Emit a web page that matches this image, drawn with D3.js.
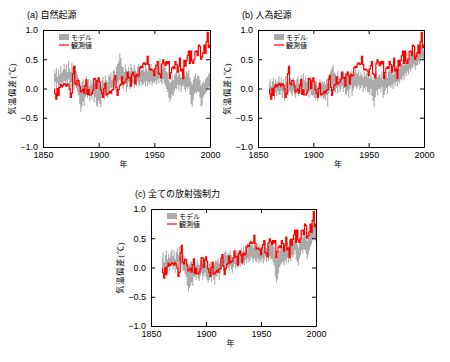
<!DOCTYPE html>
<html>
<head>
<meta charset="utf-8">
<script src="https://cdn.jsdelivr.net/npm/d3@7"></script>
<style>
  body { margin: 0; background: #fff; }
  text { font-family: "Liberation Sans", Arial, "Noto Sans CJK JP", sans-serif; }
</style>
</head>
<body>
<div id="visualization"></div>
<script>
let w = 450;
let h = 362;

// years 1860..2000
let years = d3.range(1860, 2001);

// observed global temperature anomaly (same in all panels)
let obs = [
  -0.01,-0.09,-0.18,0.00,-0.12,0.02,0.07,0.03,0.05,0.08,
  0.07,0.04,0.08,0.06,-0.01,-0.15,-0.08,0.25,0.38,0.09,
  0.06,0.14,0.13,0.04,-0.06,-0.04,-0.01,-0.08,0.05,0.15,
  -0.10,-0.02,-0.11,-0.11,-0.08,-0.03,0.17,0.16,0.00,0.13,
  0.18,0.11,-0.02,-0.08,-0.15,0.00,0.09,-0.11,-0.10,-0.08,
  -0.05,-0.08,-0.03,-0.02,0.16,0.22,0.02,-0.12,-0.02,0.05,
  0.07,0.20,0.08,0.10,0.11,0.16,0.28,0.18,0.19,0.04,
  0.24,0.28,0.21,0.08,0.24,0.21,0.23,0.35,0.38,0.36,
  0.42,0.44,0.41,0.42,0.55,0.41,0.32,0.33,0.32,0.30,
  0.22,0.33,0.39,0.46,0.26,0.24,0.18,0.42,0.49,0.44,
  0.39,0.46,0.42,0.46,0.17,0.27,0.35,0.37,0.34,0.46,
  0.41,0.28,0.38,0.52,0.30,0.33,0.17,0.48,0.38,0.48,
  0.56,0.64,0.43,0.64,0.47,0.43,0.50,0.63,0.64,0.56,
  0.74,0.72,0.50,0.54,0.61,0.74,0.60,0.80,0.96,0.70,
  0.74
];

// (a) natural forcing model range
let natHi = [
  0.32,0.26,0.35,0.20,0.33,0.24,0.38,0.27,0.32,0.42,
  0.33,0.40,0.28,0.47,0.34,0.28,0.44,0.36,0.26,0.40,
  0.30,0.24,0.18,0.10,0.04,0.12,0.16,0.06,0.12,0.20,
  0.10,0.16,0.04,0.14,0.07,0.16,0.09,0.20,0.04,0.12,
  0.16,0.08,0.04,0.13,0.20,0.09,0.22,0.14,0.11,0.24,
  0.20,0.27,0.14,0.30,0.32,0.21,0.37,0.42,0.46,0.60,
  0.52,0.38,0.36,0.28,0.40,0.31,0.27,0.37,0.29,0.42,
  0.35,0.28,0.40,0.31,0.27,0.37,0.42,0.29,0.36,0.31,
  0.40,0.29,0.44,0.34,0.29,0.40,0.31,0.42,0.34,0.29,
  0.36,0.42,0.31,0.47,0.37,0.52,0.39,0.34,0.44,0.37,
  0.35,0.29,0.27,0.14,0.09,0.12,0.21,0.14,0.23,0.26,
  0.29,0.21,0.31,0.24,0.19,0.29,0.31,0.24,0.21,0.29,
  0.26,0.31,0.19,0.12,0.07,0.15,0.21,0.26,0.17,0.23,
  0.21,0.14,0.05,0.08,0.13,0.09,0.16,0.19,0.21,0.27,
  0.25
];
let natLo = [
  0.04,0.11,0.00,0.09,-0.02,0.07,0.11,0.01,0.09,0.13,
  0.07,0.13,0.03,0.16,0.05,0.00,0.11,0.04,-0.02,0.08,
  0.00,-0.06,-0.12,-0.26,-0.40,-0.31,-0.22,-0.30,-0.15,-0.11,
  -0.16,-0.10,-0.22,-0.12,-0.19,-0.10,-0.24,-0.15,-0.29,-0.32,
  -0.21,-0.26,-0.31,-0.15,-0.10,-0.19,-0.07,-0.13,-0.16,-0.04,
  -0.06,0.01,-0.11,0.02,0.06,-0.03,0.05,0.11,0.07,0.15,
  0.12,0.04,-0.01,0.06,0.08,-0.06,0.02,0.11,-0.01,0.05,
  0.04,0.09,0.01,0.11,0.04,0.13,0.07,0.04,0.11,0.05,
  0.07,0.11,0.04,0.13,0.04,0.11,0.07,0.13,0.05,0.10,
  0.09,0.13,0.07,0.16,0.09,0.19,0.11,0.07,0.16,0.09,
  0.04,-0.01,-0.06,-0.16,-0.23,-0.18,-0.10,-0.13,-0.05,0.00,
  -0.01,0.06,-0.03,0.06,-0.06,0.03,0.05,-0.01,-0.06,0.02,
  -0.01,0.03,-0.11,-0.26,-0.31,-0.20,-0.10,-0.06,-0.09,-0.05,
  -0.06,-0.16,-0.31,-0.28,-0.15,-0.11,-0.08,-0.06,0.00,0.02,
  0.00
];

// (b) anthropogenic forcing model range
let antHi = [
  0.10,0.16,0.04,0.13,0.19,0.07,0.16,0.09,0.13,0.21,
  0.11,0.19,0.09,0.16,0.07,0.21,0.11,0.16,0.09,0.19,
  0.15,0.09,0.19,0.11,0.07,0.16,0.21,0.09,0.16,0.23,
  0.17,0.26,0.14,0.21,0.11,0.19,0.14,0.21,0.09,0.16,
  0.15,0.09,0.07,0.13,0.04,0.11,0.16,0.07,0.13,0.09,
  0.12,0.07,0.16,0.09,0.21,0.26,0.31,0.36,0.40,0.27,
  0.25,0.19,0.29,0.21,0.17,0.26,0.19,0.29,0.21,0.26,
  0.22,0.29,0.19,0.26,0.31,0.21,0.29,0.24,0.33,0.27,
  0.25,0.31,0.21,0.29,0.24,0.19,0.29,0.21,0.26,0.19,
  0.22,0.17,0.26,0.19,0.14,0.23,0.17,0.26,0.19,0.23,
  0.25,0.19,0.29,0.14,0.18,0.23,0.26,0.19,0.29,0.31,
  0.28,0.33,0.24,0.36,0.29,0.39,0.31,0.41,0.34,0.43,
  0.42,0.49,0.39,0.51,0.44,0.53,0.49,0.59,0.54,0.61,
  0.60,0.66,0.57,0.63,0.59,0.69,0.64,0.76,0.82,0.70,
  0.65
];
let antLo = [
  -0.13,-0.07,-0.16,-0.04,-0.11,-0.19,-0.07,-0.13,-0.04,-0.11,
  -0.11,-0.04,-0.16,-0.07,-0.21,-0.04,-0.11,-0.13,-0.07,-0.04,
  -0.09,-0.13,-0.04,-0.11,-0.16,-0.07,-0.04,-0.13,-0.09,-0.01,
  -0.06,0.01,-0.11,-0.04,-0.13,-0.07,-0.16,-0.04,-0.11,-0.13,
  -0.11,-0.16,-0.19,-0.11,-0.21,-0.14,-0.09,-0.16,-0.11,-0.19,
  -0.16,-0.21,-0.11,-0.31,-0.09,-0.04,0.01,0.05,0.01,-0.06,
  -0.06,0.01,-0.09,0.03,-0.06,-0.01,0.05,-0.06,0.01,-0.09,
  -0.11,-0.04,-0.16,-0.01,0.05,-0.13,-0.04,0.02,0.05,-0.01,
  0.02,0.06,-0.03,0.01,0.05,-0.06,0.01,-0.03,0.03,-0.06,
  -0.06,-0.11,-0.01,-0.13,-0.21,-0.31,-0.15,-0.04,-0.11,-0.01,
  0.00,-0.06,0.03,-0.16,-0.11,-0.04,0.01,-0.09,0.03,0.05,
  0.01,0.06,-0.01,0.09,0.04,0.11,0.04,0.13,0.09,0.16,
  0.14,0.21,0.14,0.26,0.21,0.29,0.24,0.33,0.29,0.36,
  0.34,0.41,0.31,0.39,0.40,0.46,0.41,0.51,0.52,0.50,
  0.50
];

// (c) all forcings model range
let allHi = [
  0.15,0.26,0.09,0.21,0.29,0.14,0.23,0.17,0.26,0.31,
  0.19,0.29,0.14,0.26,0.33,0.21,0.36,0.19,0.29,0.21,
  0.20,0.14,0.10,0.04,0.00,0.05,0.09,0.11,0.04,0.13,
  0.10,0.04,0.13,0.07,0.04,0.11,0.16,0.07,0.13,0.16,
  0.10,0.04,-0.01,0.06,0.09,0.01,0.11,0.04,0.09,0.13,
  0.10,0.16,0.07,0.13,0.19,0.23,0.19,0.26,0.29,0.21,
  0.25,0.19,0.29,0.21,0.17,0.26,0.31,0.21,0.29,0.24,
  0.30,0.24,0.33,0.27,0.36,0.29,0.39,0.31,0.41,0.34,
  0.38,0.46,0.39,0.34,0.43,0.37,0.34,0.41,0.31,0.39,
  0.35,0.41,0.31,0.39,0.43,0.34,0.41,0.37,0.46,0.39,
  0.42,0.37,0.35,0.19,0.14,0.18,0.26,0.28,0.33,0.35,
  0.38,0.31,0.41,0.34,0.43,0.37,0.46,0.39,0.49,0.44,
  0.50,0.56,0.44,0.40,0.34,0.46,0.51,0.59,0.51,0.61,
  0.62,0.54,0.45,0.51,0.59,0.66,0.69,0.73,0.80,0.74,
  0.70
];
let allLo = [
  -0.06,0.01,-0.11,-0.04,0.03,-0.09,0.01,-0.06,0.03,0.05,
  -0.03,0.06,-0.09,0.01,0.09,-0.06,0.11,-0.03,0.06,-0.06,
  -0.05,-0.11,-0.16,-0.31,-0.41,-0.35,-0.31,-0.25,-0.31,-0.15,
  -0.16,-0.21,-0.11,-0.19,-0.23,-0.14,-0.09,-0.21,-0.14,-0.09,
  -0.16,-0.21,-0.26,-0.21,-0.17,-0.26,-0.14,-0.21,-0.29,-0.14,
  -0.16,-0.09,-0.21,-0.11,-0.04,0.01,-0.06,-0.01,0.06,-0.01,
  0.00,-0.06,0.03,-0.03,-0.09,0.01,0.06,-0.03,0.03,-0.01,
  0.05,0.01,0.09,0.04,0.11,0.04,0.13,0.07,0.16,0.09,
  0.12,0.19,0.14,0.09,0.16,0.11,0.09,0.16,0.07,0.13,
  0.09,0.16,0.07,0.13,0.19,0.09,0.16,0.11,0.19,0.14,
  0.15,0.09,0.04,-0.16,-0.26,-0.20,-0.10,0.01,0.05,0.09,
  0.10,0.04,0.13,0.07,0.16,0.09,0.19,0.11,0.21,0.17,
  0.22,0.29,0.14,0.09,0.04,0.16,0.21,0.29,0.24,0.31,
  0.30,0.24,0.14,0.21,0.29,0.36,0.40,0.46,0.50,0.47,
  0.45
];

let xTicks = [1850, 1900, 1950, 2000];
let yTicks = [-1.0, -0.5, 0.0, 0.5, 1.0];

let panels = [
  {title: "(a) 自然起源", x: 43, y: 30, pw: 167, ph: 117, lo: natLo, hi: natHi},
  {title: "(b) 人為起源", x: 258, y: 30, pw: 166, ph: 117, lo: antLo, hi: antHi},
  {title: "(c) 全ての放射強制力", x: 151, y: 209, pw: 165, ph: 117, lo: allLo, hi: allHi}
];

let viz = d3.select("#visualization")
  .append("svg")
  .attr("width", w)
  .attr("height", h)
  .style("background-color", "white");

panels.forEach(function(p){
  let g = viz.append("g").attr("transform", "translate(" + p.x + "," + p.y + ")");

  let xScale = d3.scaleLinear().domain([1850, 2000]).range([0, p.pw]);
  let yScale = d3.scaleLinear().domain([-1, 1]).range([p.ph, 0]);

  // model range, drawn year by year as steps
  let band = d3.area()
    .curve(d3.curveStep)
    .x(function(d, i){ return xScale(years[i]); })
    .y0(function(d, i){ return yScale(p.lo[i]); })
    .y1(function(d, i){ return yScale(p.hi[i]); });
  g.append("path")
    .datum(p.hi)
    .attr("d", band)
    .attr("fill", "#ababab");

  // observations
  let line = d3.line()
    .curve(d3.curveStep)
    .x(function(d, i){ return xScale(years[i]); })
    .y(function(d){ return yScale(d); });
  g.append("path")
    .datum(obs)
    .attr("d", line)
    .attr("fill", "none")
    .attr("stroke", "#ff0000")
    .attr("stroke-width", 1.2);

  // axes, ticks pointing inward
  let fmt = d3.format(".1f");
  g.append("g").attr("class", "axis")
    .attr("transform", "translate(0," + p.ph + ")")
    .call(d3.axisBottom(xScale).tickValues(xTicks).tickSize(-4).tickSizeOuter(0).tickPadding(5).tickFormat(d3.format("d")));
  g.append("g").attr("class", "axis")
    .call(d3.axisTop(xScale).tickValues(xTicks).tickSize(-4).tickSizeOuter(0).tickFormat(""));
  g.append("g").attr("class", "axis")
    .call(d3.axisLeft(yScale).tickValues(yTicks).tickSize(-4).tickSizeOuter(0).tickPadding(5).tickFormat(fmt));
  g.append("g").attr("class", "axis")
    .attr("transform", "translate(" + p.pw + ",0)")
    .call(d3.axisRight(yScale).tickValues(yTicks).tickSize(-4).tickSizeOuter(0).tickFormat(""));

  g.selectAll(".axis text").attr("font-size", 9).attr("fill", "#000")
    .style("font-family", "'Liberation Sans', Arial, sans-serif");
  g.selectAll(".axis path, .axis line").attr("stroke", "#000");

  // legend
  g.append("rect")
    .attr("x", 16).attr("y", 4).attr("width", 10).attr("height", 6)
    .attr("fill", "#ababab");
  g.append("text").attr("x", 28).attr("y", 10).attr("font-size", 7).text("モデル");
  g.append("line")
    .attr("x1", 16).attr("x2", 26).attr("y1", 15).attr("y2", 15)
    .attr("stroke", "#ff0000").attr("stroke-width", 1.2);
  g.append("text").attr("x", 28).attr("y", 18).attr("font-size", 7).text("観測値");

  // titles and labels
  g.append("text").attr("x", -16).attr("y", -12).attr("font-size", 9).text(p.title);
  g.append("text")
    .attr("x", p.pw / 2 - 3).attr("y", p.ph + 20)
    .attr("text-anchor", "middle").attr("font-size", 8).text("年");
  g.append("text")
    .attr("transform", "translate(" + (-28) + "," + (p.ph / 2) + ") rotate(-90)")
    .attr("text-anchor", "middle").attr("font-size", 8)
    .attr("letter-spacing", 1).text("気温偏差(℃)");
});
</script>
</body>
</html>
